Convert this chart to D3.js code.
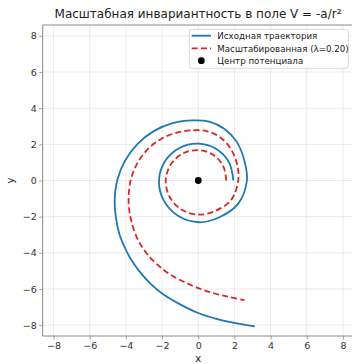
<!DOCTYPE html>
<html>
<head>
<meta charset="utf-8">
<script src="https://cdn.jsdelivr.net/npm/d3@7/dist/d3.min.js"></script>
<style>
  html, body { margin: 0; padding: 0; background: #fff; }
  svg { display: block; font-family: "DejaVu Sans", sans-serif; }
</style>
</head>
<body>
<svg id="chart" width="352" height="364"></svg>
<script>
// Original trajectory (x, y), ordered from the inner end outward
const origX = [1.94, 1.71, 1.00, 0.00, -1.04, -1.84, -2.17, -1.91, -1.12, 0.05, 1.17, 2.21, 2.69, 2.55, 2.12, 1.45, 0.60, -0.30, -1.42, -2.46, -3.35, -4.04, -4.47, -4.62, -4.56, -4.35, -3.95, -3.55, -3.15, -2.60, -2.00, -1.00, 0.00, 1.00, 2.00, 3.13];
const origY = [0.00, 0.99, 1.74, 2.04, 1.80, 1.06, 0.00, -1.10, -1.95, -2.31, -2.03, -1.28, 0.00, 1.10, 2.15, 2.85, 3.25, 3.32, 3.17, 2.73, 2.03, 1.11, 0.04, -1.10, -2.00, -3.00, -3.95, -4.62, -5.15, -5.75, -6.25, -6.85, -7.33, -7.65, -7.87, -8.07];

// Scaled trajectory (λ=0.20)
const scaledX = [1.55, 1.38, 0.82, 0.00, -0.86, -1.52, -1.80, -1.58, -0.93, 0.00, 0.97, 1.83, 2.21, 2.16, 1.80, 1.22, 0.50, -0.25, -1.18, -2.05, -2.80, -3.37, -3.73, -3.85, -3.80, -3.60, -3.30, -2.95, -2.55, -2.05, -1.55, -0.80, 0.00, 0.90, 1.75, 2.55];
const scaledY = [0.00, 0.80, 1.42, 1.68, 1.49, 0.88, 0.00, -0.91, -1.61, -1.89, -1.67, -1.06, 0.00, 0.85, 1.75, 2.38, 2.72, 2.78, 2.65, 2.30, 1.72, 0.95, 0.04, -0.95, -1.75, -2.60, -3.35, -3.90, -4.38, -4.83, -5.20, -5.60, -5.95, -6.25, -6.45, -6.62];

const centerX = [0];
const centerY = [0];

const tickValues = [-8, -6, -4, -2, 0, 2, 4, 6, 8];
const seriesNames = ["Исходная траектория", "Масштабированная (λ=0.20)", "Центр потенциала"];
const titleText = "Масштабная инвариантность в поле V = -a/r²";

const svg = d3.select("#chart");
const plotLeft = 42.7, plotTop = 25, plotBottom = 336;
const x = d3.scaleLinear().domain([-8.6, 8.6]).range([plotLeft, plotLeft + 311.1]);
const y = d3.scaleLinear().domain([-8.6, 8.6]).range([plotBottom, plotTop]);

const spineColor = "#8a8a8a";

// clip to plotting area
svg.append("clipPath").attr("id", "plot-clip")
  .append("rect").attr("x", plotLeft).attr("y", plotTop).attr("width", 352 - plotLeft).attr("height", plotBottom - plotTop);

// grid
const grid = svg.append("g");
grid.selectAll(".gx").data(tickValues).enter().append("line")
  .attr("x1", d => x(d)).attr("x2", d => x(d))
  .attr("y1", plotTop).attr("y2", plotBottom)
  .attr("stroke", "#e6e6e6").attr("stroke-width", 0.8);
grid.selectAll(".gy").data(tickValues).enter().append("line")
  .attr("x1", plotLeft).attr("x2", 352)
  .attr("y1", d => y(d)).attr("y2", d => y(d))
  .attr("stroke", "#e6e6e6").attr("stroke-width", 0.8);

// axes
const fmt = d => (d < 0 ? "\u2212" + Math.abs(d) : String(d));
const xAxis = svg.append("g").attr("transform", `translate(0,${plotBottom})`)
  .call(d3.axisBottom(x).tickValues(tickValues).tickFormat(fmt).tickSize(3.5).tickPadding(2.5));
const yAxis = svg.append("g").attr("transform", `translate(${plotLeft},0)`)
  .call(d3.axisLeft(y).tickValues(tickValues).tickFormat(fmt).tickSize(3.5).tickPadding(2.5));
[xAxis, yAxis].forEach(g => {
  g.select(".domain").remove();
  g.selectAll(".tick line").attr("stroke", spineColor).attr("stroke-width", 0.8);
  g.selectAll(".tick text").attr("fill", "#333").style("font-size", "9.5px").style("font-family", "DejaVu Sans");
});

// spines (left, bottom, top)
svg.append("line").attr("x1", plotLeft).attr("x2", plotLeft).attr("y1", plotTop).attr("y2", plotBottom)
  .attr("stroke", spineColor).attr("stroke-width", 1);
svg.append("line").attr("x1", plotLeft).attr("x2", 352).attr("y1", plotBottom).attr("y2", plotBottom)
  .attr("stroke", spineColor).attr("stroke-width", 1);
svg.append("line").attr("x1", plotLeft).attr("x2", 352).attr("y1", plotTop).attr("y2", plotTop)
  .attr("stroke", spineColor).attr("stroke-width", 1);

const plot = svg.append("g").attr("clip-path", "url(#plot-clip)");
const line = d3.line().x(d => x(d[0])).y(d => y(d[1])).curve(d3.curveCatmullRom.alpha(0.5));

plot.append("path").datum(d3.zip(origX, origY))
  .attr("d", line).attr("fill", "none")
  .attr("stroke", "#1f77b4").attr("stroke-width", 1.8);
plot.append("path").datum(d3.zip(scaledX, scaledY))
  .attr("d", line).attr("fill", "none")
  .attr("stroke", "#d62728").attr("stroke-width", 1.8).attr("stroke-dasharray", "6,3.2");
plot.selectAll(".center").data(d3.zip(centerX, centerY)).enter().append("circle")
  .attr("cx", d => x(d[0])).attr("cy", d => y(d[1])).attr("r", 3.4).attr("fill", "#000");

// title and axis labels
svg.append("text").attr("x", 198).attr("y", 18).attr("text-anchor", "middle")
  .style("font-size", "12px").attr("fill", "#222").text(titleText);
svg.append("text").attr("x", x(0)).attr("y", 362).attr("text-anchor", "middle")
  .style("font-size", "10px").attr("fill", "#222").text("x");
svg.append("text").attr("transform", `translate(14,${y(0)}) rotate(-90)`).attr("text-anchor", "middle")
  .style("font-size", "10px").attr("fill", "#222").text("y");

// legend
const lg = svg.append("g");
lg.append("rect").attr("x", 189.3).attr("y", 29.3).attr("width", 159).attr("height", 39)
  .attr("rx", 2.5).attr("fill", "#fff").attr("fill-opacity", 0.85)
  .attr("stroke", "#d0d0d0").attr("stroke-width", 0.8);
const rowsY = [35.7, 48.3, 60.7];
lg.append("line").attr("x1", 191.7).attr("x2", 211).attr("y1", rowsY[0]).attr("y2", rowsY[0])
  .attr("stroke", "#1f77b4").attr("stroke-width", 1.8);
lg.append("line").attr("x1", 191.7).attr("x2", 211).attr("y1", rowsY[1]).attr("y2", rowsY[1])
  .attr("stroke", "#d62728").attr("stroke-width", 1.8).attr("stroke-dasharray", "6,3.2");
lg.append("circle").attr("cx", 201.3).attr("cy", rowsY[2]).attr("r", 3.4).attr("fill", "#000");
lg.selectAll(".lt").data(seriesNames).enter().append("text")
  .attr("x", 217.3).attr("y", (d, i) => rowsY[i] + 3.2)
  .style("font-size", "8.7px").attr("fill", "#222").text(d => d);
</script>
</body>
</html>
